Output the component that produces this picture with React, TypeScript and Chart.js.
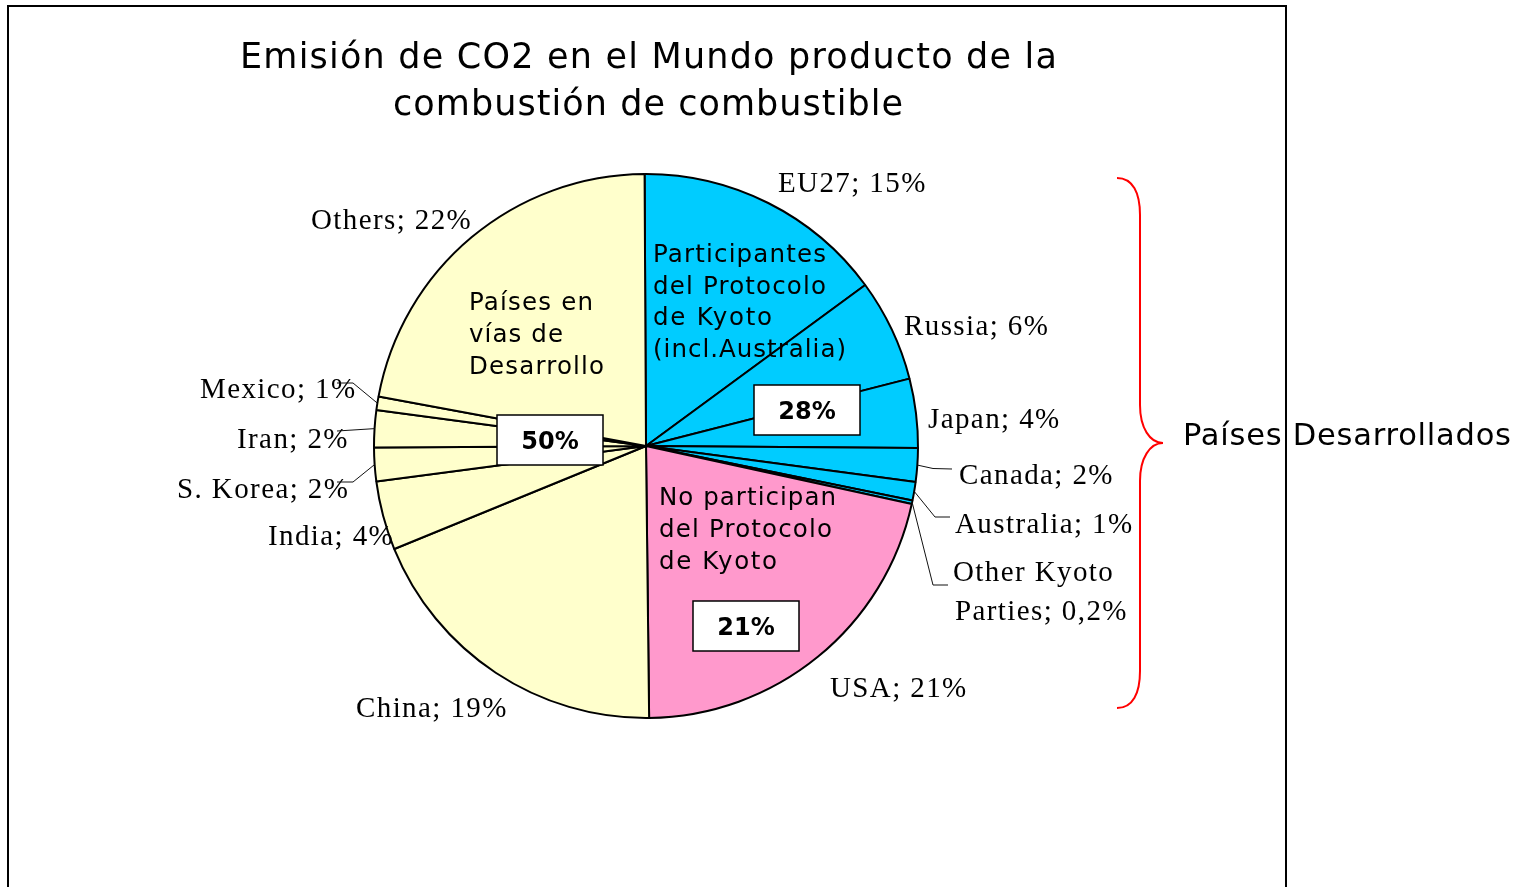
import React, { useEffect, useRef } from 'react';
import { Chart, registerables } from 'chart.js';

Chart.register(...registerables);

// ---------- data ----------
const categories = [
  'EU27', 'Russia', 'Japan', 'Canada', 'Australia', 'Other Kyoto Parties',
  'USA', 'China', 'India', 'S. Korea', 'Iran', 'Mexico', 'Others',
];
const shares = [15.0, 6.1, 4.1, 2.0, 1.1, 0.2, 21.4, 19.0, 4.1, 2.0, 2.2, 0.8, 22.0];
const shareLabels = ['15%', '6%', '4%', '2%', '1%', '0,2%', '21%', '19%', '4%', '2%', '2%', '1%', '22%'];
const sliceGroup = ['kyoto', 'kyoto', 'kyoto', 'kyoto', 'kyoto', 'kyoto', 'usa', 'dev', 'dev', 'dev', 'dev', 'dev', 'dev'];

const groupTotals = { kyoto: '28%', usa: '21%', dev: '50%' };
const kyotoText = ['Participantes', 'del Protocolo', 'de Kyoto', '(incl.Australia)'];
const usaText = ['No participan', 'del Protocolo', 'de Kyoto'];
const devText = ['Países en', 'vías de', 'Desarrollo'];
const titleLines = ['Emisión de CO2 en el Mundo producto de la', 'combustión de combustible'];
const braceLabel = 'Países Desarrollados';

// ---------- styles / layout ----------
const groupColors: Record<string, string> = { kyoto: '#00CCFF', usa: '#FF99CC', dev: '#FFFFCC' };
const SERIF = '"Liberation Serif", "DejaVu Serif", serif';
const SANS = '"DejaVu Sans", Verdana, sans-serif';

type LabelLayout = { x: number; y: number; lines?: string[]; dx2?: number; gap?: number; leader?: number[][] };
const labelLayout: LabelLayout[] = [
  { x: 778, y: 192 },
  { x: 904, y: 335 },
  { x: 928, y: 428 },
  { x: 959, y: 484, leader: [[933, 468.5], [952, 469]] },
  { x: 955, y: 533, leader: [[935, 517], [950, 517]] },
  { x: 953, y: 581, lines: ['Other Kyoto', 'Parties; 0,2%'], dx2: 2, gap: 38.5, leader: [[933, 585], [948, 585]] },
  { x: 830, y: 697 },
  { x: 356, y: 717 },
  { x: 268, y: 545 },
  { x: 177, y: 498, leader: [[353, 482], [337, 482]] },
  { x: 237, y: 448, leader: [[337, 431]] },
  { x: 200, y: 398, leader: [[353, 383], [337, 383]] },
  { x: 311, y: 229 },
];

function drawFitted(ctx: CanvasRenderingContext2D, text: string, x: number, y: number, font: string, target: number, align: 'left' | 'center') {
  ctx.save();
  ctx.font = font;
  (ctx as any).letterSpacing = '0px';
  const w0 = ctx.measureText(text).width;
  const n = Array.from(text).length;
  const s = n > 1 ? (target - w0) / (n - 1) : 0;
  (ctx as any).letterSpacing = s + 'px';
  ctx.textAlign = 'left';
  ctx.textBaseline = 'alphabetic';
  const left = align === 'center' ? x - target / 2 : x;
  ctx.fillText(text, left, y);
  ctx.restore();
}

const overlayPlugin = {
  id: 'overlay',
  afterDraw(chart: any) {
    const ctx: CanvasRenderingContext2D = chart.ctx;
    const meta = chart.getDatasetMeta(0);
    ctx.save();
    ctx.fillStyle = '#000';

    // Title
    drawFitted(ctx, titleLines[0], 648.5, 68, `35px ${SANS}`, 817, 'center');
    drawFitted(ctx, titleLines[1], 648, 114.5, `35px ${SANS}`, 510, 'center');

    // group texts inside the pie
    const inner = `24.5px ${SANS}`;
    const kyW = [173, 173, 119, 193];
    kyotoText.forEach((t, i) => drawFitted(ctx, t, 653, 262 + i * 31.6, inner, kyW[i], 'left'));
    const devW = [124, 94, 135];
    devText.forEach((t, i) => drawFitted(ctx, t, 469, 309.5 + i * 32, inner, devW[i], 'left'));
    const usW = [177, 173, 118];
    usaText.forEach((t, i) => drawFitted(ctx, t, 659, 505 + i * 32, inner, usW[i], 'left'));

    // group total boxes
    const boxes = [
      { key: 'kyoto', x: 754, y: 385 },
      { key: 'dev', x: 497, y: 415 },
      { key: 'usa', x: 693, y: 601 },
    ];
    boxes.forEach((b) => {
      ctx.save();
      ctx.fillStyle = '#fff';
      ctx.strokeStyle = '#000';
      ctx.lineWidth = 1.5;
      ctx.fillRect(b.x, b.y, 106, 50);
      ctx.strokeRect(b.x, b.y, 106, 50);
      ctx.fillStyle = '#000';
      ctx.font = `bold 24px ${SANS}`;
      ctx.textAlign = 'center';
      ctx.textBaseline = 'alphabetic';
      ctx.fillText((groupTotals as any)[b.key], b.x + 53, b.y + 34);
      ctx.restore();
    });

    // slice labels and leader lines
    ctx.font = `29px ${SERIF}`;
    (ctx as any).letterSpacing = '1.4px';
    ctx.textAlign = 'left';
    ctx.textBaseline = 'alphabetic';
    categories.forEach((c, i) => {
      const L = labelLayout[i];
      const lines = L.lines || [`${c}; ${shareLabels[i]}`];
      lines.forEach((t, k) => ctx.fillText(t, L.x + (k ? L.dx2 || 0 : 0), L.y + k * (L.gap || 0)));
      if (L.leader) {
        const arc = meta.data[i];
        const mid = (arc.startAngle + arc.endAngle) / 2;
        const r = arc.outerRadius;
        ctx.save();
        ctx.strokeStyle = '#111';
        ctx.lineWidth = 1;
        ctx.beginPath();
        ctx.moveTo(arc.x + Math.cos(mid) * r, arc.y + Math.sin(mid) * r);
        L.leader.forEach((p) => ctx.lineTo(p[0], p[1]));
        ctx.stroke();
        ctx.restore();
      }
    });
    (ctx as any).letterSpacing = '0px';

    // red brace
    ctx.save();
    ctx.strokeStyle = '#FF0000';
    ctx.lineWidth = 2;
    ctx.beginPath();
    ctx.moveTo(1117, 178);
    ctx.bezierCurveTo(1133, 178, 1140, 193, 1140, 215);
    ctx.lineTo(1140, 405);
    ctx.bezierCurveTo(1140, 428, 1150, 443, 1163, 443);
    ctx.bezierCurveTo(1150, 443, 1140, 458, 1140, 481);
    ctx.lineTo(1140, 671);
    ctx.bezierCurveTo(1140, 693, 1133, 708, 1117, 708);
    ctx.stroke();
    ctx.restore();

    drawFitted(ctx, braceLabel, 1183, 445, `30.5px ${SANS}`, 328, 'left');

    // frame
    ctx.strokeStyle = '#000';
    ctx.lineWidth = 2;
    ctx.beginPath();
    ctx.moveTo(8, 887);
    ctx.lineTo(8, 6);
    ctx.lineTo(1286, 6);
    ctx.lineTo(1286, 887);
    ctx.stroke();
    ctx.restore();
  },
};

export default function App() {
  const ref = useRef<HTMLCanvasElement | null>(null);
  useEffect(() => {
    document.body.style.margin = '0';
    const canvas = ref.current;
    if (!canvas) return;
    const chart = new Chart(canvas, {
      type: 'pie',
      data: {
        labels: categories,
        datasets: [
          {
            data: shares,
            backgroundColor: sliceGroup.map((g) => groupColors[g]),
            borderColor: '#000',
            borderWidth: 2,
            hoverOffset: 0,
          },
        ],
      },
      options: {
        responsive: false,
        animation: false,
        devicePixelRatio: 1,
        events: [],
        rotation: -0.3,
        layout: { padding: { left: 373, right: 609, top: 173, bottom: 168 } },
        plugins: {
          legend: { display: false },
          tooltip: { enabled: false },
          title: { display: false },
        },
      },
      plugins: [overlayPlugin],
    });
    return () => chart.destroy();
  }, []);
  return <canvas ref={ref} width={1528} height={887} style={{ display: 'block' }} />;
}
